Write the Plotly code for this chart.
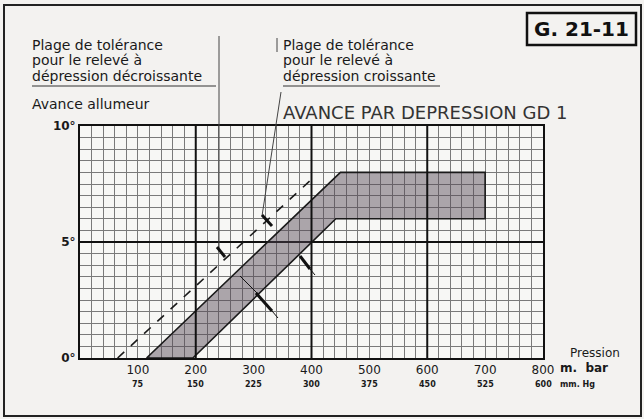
import plotly.graph_objects as go

# ---------------- data ----------------
PRESSURE_TICKS = [100, 200, 300, 400, 500, 600, 700, 800]
PRESSURE_LABELS = ["100", "200", "300", "400", "500", "600", "700", "800"]
MMHG_LABELS = ["75", "150", "225", "300", "375", "450", "525", "600"]
ADVANCE_TICKS = [0, 5, 10]
ADVANCE_LABELS = ["0°", "5°", "10°"]

# tolerance band, increasing vacuum (shaded)
CROIS_X = [115, 450, 700, 700, 442, 195, 115]
CROIS_Y = [0, 8, 8, 6, 6, 0, 0]
# limit line, decreasing vacuum (dashed)
DECROIS_X = [65, 400]
DECROIS_Y = [0, 7.7]

MAJOR_X = [200, 400, 600]

# ---------------- geometry helpers (layout) ----------------
W, H = 644, 419
L, R, T, B = 80, 101, 126, 61
PW, PH = W - L - R, H - T - B
FONT = "DejaVu Sans"


def px(x):
    return (x - L) / PW


def py(y):
    return (H - B - y) / PH


fig = go.Figure()

fig.add_trace(go.Scatter(
    x=CROIS_X, y=CROIS_Y, mode="lines", fill="toself",
    fillcolor="rgba(80,68,80,0.46)",
    line=dict(color="#1a1a1a", width=1.6), hoverinfo="skip", showlegend=False))

fig.add_trace(go.Scatter(
    x=DECROIS_X, y=DECROIS_Y, mode="lines",
    line=dict(color="#1a1a1a", width=1.6, dash="dash"),
    hoverinfo="skip", showlegend=False))

shapes = []
for xv in MAJOR_X:
    shapes.append(dict(type="line", xref="x", yref="paper", x0=xv, x1=xv, y0=0, y1=1,
                       line=dict(color="#111", width=2), layer="above"))

# frame around whole picture
shapes.append(dict(type="rect", xref="paper", yref="paper",
                   x0=px(4), x1=px(641), y0=py(416), y1=py(5),
                   line=dict(color="#222", width=2)))
# G. 21-11 box
shapes.append(dict(type="rect", xref="paper", yref="paper",
                   x0=px(527), x1=px(636), y0=py(45), y1=py(13),
                   line=dict(color="#111", width=2.5)))
# underlines in header
shapes.append(dict(type="line", xref="paper", yref="paper",
                   x0=px(32), x1=px(216), y0=py(86), y1=py(86),
                   line=dict(color="#333", width=1)))
shapes.append(dict(type="line", xref="paper", yref="paper",
                   x0=px(283), x1=px(440), y0=py(86), y1=py(86),
                   line=dict(color="#333", width=1)))
# leader lines
shapes.append(dict(type="line", xref="paper", yref="paper",
                   x0=px(219), x1=px(219), y0=py(36), y1=py(248),
                   line=dict(color="#444", width=1)))
shapes.append(dict(type="line", xref="paper", yref="paper",
                   x0=px(277), x1=px(277), y0=py(38), y1=py(52),
                   line=dict(color="#444", width=1)))
shapes.append(dict(type="line", xref="paper", yref="paper",
                   x0=px(281), x1=px(262), y0=py(92), y1=py(216),
                   line=dict(color="#444", width=1)))
# tolerance markers
for (x0, y0, x1, y1, w) in [
    (217, 247, 225, 257, 3),
    (262, 215, 272, 226, 3),
    (240, 276, 257, 293, 1),
    (256, 293, 272, 311, 3),
    (272, 311, 278, 318, 1),
    (300, 256, 310, 269, 3),
    (310, 269, 315, 275, 1),
]:
    shapes.append(dict(type="line", xref="paper", yref="paper",
                       x0=px(x0), x1=px(x1), y0=py(y0), y1=py(y1),
                       line=dict(color="#111", width=w)))

ann = []


def text(s, x, y, size, xanchor="left", color="#1a1a1a", weight=None):
    f = dict(family=FONT, size=size, color=color)
    if weight:
        f["weight"] = weight
    ann.append(dict(text=s, xref="paper", yref="paper", x=px(x), y=py(y),
                    xanchor=xanchor, yanchor="middle", showarrow=False, font=f))


text("Plage de tolérance", 30, 45, 14)
text("pour le relevé à", 30, 60, 14)
text("dépression décroissante", 30, 76, 14)
text("Avance allumeur", 30, 104, 14)
text("Plage de tolérance", 281, 45, 14)
text("pour le relevé à", 281, 60, 14)
text("dépression croissante", 281, 76, 14)
text("AVANCE PAR DEPRESSION GD 1", 281, 112, 18, color="#333")
text("G. 21-11", 581, 29, 20, xanchor="center", color="#111", weight="bold")
text("Pression", 568, 353, 12)
text("m.  bar", 558, 368, 12, weight="bold")
text("mm. Hg", 558, 384, 8, weight="bold")

for xv, lab in zip(PRESSURE_TICKS, MMHG_LABELS):
    ann.append(dict(text=lab, xref="x", yref="paper", x=xv, y=py(384),
                    xanchor="center", yanchor="middle", showarrow=False,
                    font=dict(family=FONT, size=8, color="#1a1a1a", weight="bold")))

fig.update_layout(
    width=W, height=H,
    margin=dict(l=L, r=R, t=T, b=B, pad=0),
    paper_bgcolor="#f3f2f0", plot_bgcolor="#f7f7f5",
    showlegend=False,
    shapes=shapes, annotations=ann,
)
fig.update_xaxes(
    range=[0, 800], tickvals=PRESSURE_TICKS, ticktext=PRESSURE_LABELS,
    tickfont=dict(family=FONT, size=12, color="#1a1a1a"),
    ticks="", showgrid=True, gridcolor="#7a7a7a", gridwidth=1,
    minor=dict(dtick=20, showgrid=True, gridcolor="#7a7a7a", gridwidth=1),
    showline=True, linecolor="#111", linewidth=2, mirror=True, zeroline=False,
    fixedrange=True,
)
fig.update_yaxes(
    range=[0, 10], tickvals=ADVANCE_TICKS, ticktext=ADVANCE_LABELS,
    tickfont=dict(family=FONT, size=12, color="#1a1a1a", weight="bold"),
    ticks="", showgrid=True, gridcolor="#111", gridwidth=2,
    minor=dict(dtick=0.5, showgrid=True, gridcolor="#7a7a7a", gridwidth=1),
    showline=True, linecolor="#111", linewidth=2, mirror=True, zeroline=False,
    fixedrange=True,
)

fig.write_html(
    "out.html",
    config={"displayModeBar": False},
    post_script="document.body.style.margin='0';document.body.style.overflow='hidden';",
)
